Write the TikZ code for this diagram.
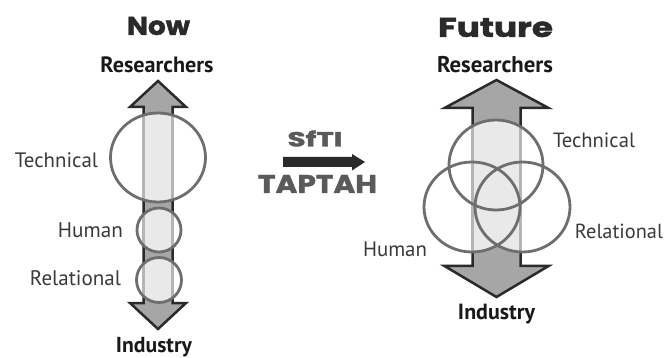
\documentclass[tikz,border=0pt]{standalone}
\usepackage{fontspec}
\usepackage{graphicx}
\setmainfont{PT Sans}
\newfontfamily\titlefont{Poppins}[BoldFeatures={FakeBold=1.6}]
\definecolor{arrowfill}{HTML}{A6A6A6}
\definecolor{arrowline}{HTML}{2A2A2A}
\definecolor{stripfill}{HTML}{E9E9E9}
\definecolor{stripline}{HTML}{B5B5B5}
\definecolor{ringcol}{HTML}{6E6E6E}
\definecolor{labelcol}{HTML}{3A3A3A}
\definecolor{midcol}{HTML}{5A5A5A}
\newcommand\fitw[2]{\resizebox{#1}{!}{#2}}
\newcommand\fitwh[3]{\resizebox{#1}{#2}{#3}}
\newcommand\DArrow[7]{%
  \draw[bigarrow] ({#1},{#4}) -- ({#1+#3},{#5}) -- ({#1+#2},{#5}) -- ({#1+#2},{#6})
    -- ({#1+#3},{#6}) -- ({#1},{#7}) -- ({#1-#3},{#6}) -- ({#1-#2},{#6})
    -- ({#1-#2},{#5}) -- ({#1-#3},{#5}) -- cycle;}
\tikzset{
  bigarrow/.style={fill=arrowfill, draw=arrowline, line width=2.5pt, line join=miter},
  strip/.style={fill=stripfill, draw=stripline, line width=2.5pt},
  ring/.style={draw=ringcol, line width=2.8pt},
  title/.style={inner sep=0pt, text=arrowline, font=\titlefont\bfseries},
  pole/.style={inner sep=0pt, text=black!90, font=\bfseries},
  lbl/.style={inner sep=0pt, text=labelcol},
  mid/.style={inner sep=0pt, text=midcol, font=\titlefont\bfseries},
  midarrow/.style={fill=arrowline, draw=none}
}
\begin{document}
\begin{tikzpicture}[x=1pt,y=-1pt]
\useasboundingbox[fill=white] (0,0) rectangle (667,358);

% ---------- Now ----------
\DArrow{158}{14.5}{28}{81}{107}{303}{329}
\begin{scope}
  \clip (158,157.5) ellipse [x radius=47.5, y radius=44.5]
        (159,230) circle [radius=22]
        (159,280) circle [radius=22.5];
  \draw[strip] (143.5,107) rectangle (172.5,303);
\end{scope}
\draw[ring] (158,157.5) ellipse [x radius=47.5, y radius=44.5];
\draw[ring] (159,230) circle [radius=22];
\draw[ring] (159,280) circle [radius=22.5];

\node[title] (now) at (158.5,26) {\fitwh{63pt}{18pt}{Now}};
\node[pole] (resL) at (157,65) {\fitw{113pt}{Researchers}};
\node[pole] (indL) at (154,347) {\fitw{76pt}{Industry}};
\node[lbl] (techL) at (56.5,160) {\fitw{83pt}{Technical}};
\node[lbl] (humL) at (90.5,230) {\fitw{65pt}{Human}};
\node[lbl] (relL) at (75.5,278) {\fitw{91pt}{Relational}};

% ---------- middle ----------
\node[mid] (sfti) at (315,138.5) {\fitwh{55pt}{16pt}{SfTI}};
\node[mid] (taptah) at (317.5,184) {\fitwh{119pt}{18pt}{TAPTAH}};
\fill[midarrow] (283,157) -- (352,157) -- (352,154) -- (365,162) -- (352,170.5)
  -- (352,167) -- (283,167) -- cycle;

% ---------- Future ----------
\DArrow{496.5}{24}{52}{80}{108}{266}{297}
\begin{scope}
  \clip (496,165) ellipse [x radius=47, y radius=45]
        (472,207) ellipse [x radius=48, y radius=45]
        (522.5,207) ellipse [x radius=47.5, y radius=45];
  \draw[strip] (472.5,108) rectangle (520.5,266);
\end{scope}
\draw[ring] (496,165) ellipse [x radius=47, y radius=45];
\draw[ring] (472,207) ellipse [x radius=48, y radius=45];
\draw[ring] (522.5,207) ellipse [x radius=47.5, y radius=45];

\node[title] (future) at (495.5,27.5) {\fitwh{115pt}{19pt}{Future}};
\node[pole] (resR) at (495,65) {\fitw{116pt}{Researchers}};
\node[pole] (indR) at (496.5,314) {\fitw{77pt}{Industry}};
\node[lbl] (techR) at (594,140) {\fitw{82pt}{Technical}};
\node[lbl] (relR) at (619,231) {\fitw{88pt}{Relational}};
\node[lbl] (humR) at (395,249) {\fitw{64pt}{Human}};
\end{tikzpicture}
\end{document}
